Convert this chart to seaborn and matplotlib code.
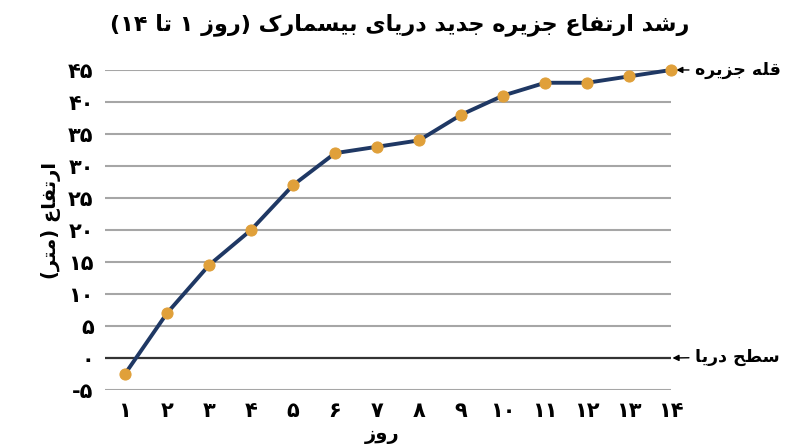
import re
import pandas as pd
import matplotlib
matplotlib.use("Agg")
import matplotlib.pyplot as plt
import seaborn as sns

# داده‌ها
days = list(range(1, 15))
heights = [-2.5, 7, 14.5, 20, 27, 32, 33, 34, 38, 41, 43, 43, 44, 45]
day_labels = ["۱", "۲", "۳", "۴", "۵", "۶", "۷", "۸", "۹", "۱۰", "۱۱", "۱۲", "۱۳", "۱۴"]
y_ticks = [-5, 0, 5, 10, 15, 20, 25, 30, 35, 40, 45]
y_labels = ["-۵", "۰", "۵", "۱۰", "۱۵", "۲۰", "۲۵", "۳۰", "۳۵", "۴۰", "۴۵"]

title = "رشد ارتفاع جزیره جدید دریای بیسمارک (روز ۱ تا ۱۴)"
x_title = "روز"
y_title = "ارتفاع (متر)"
peak_text = "قله جزیره"
sea_text = "سطح دریا"

# شکل‌دهی حروف فارسی (matplotlib خودش حروف را به هم نمی‌چسباند)
FORMS = {
    "ا": ("\uFE8D", "\uFE8E", None, None),
    "ب": ("\uFE8F", "\uFE90", "\uFE91", "\uFE92"),
    "ت": ("\uFE95", "\uFE96", "\uFE97", "\uFE98"),
    "ج": ("\uFE9D", "\uFE9E", "\uFE9F", "\uFEA0"),
    "ح": ("\uFEA1", "\uFEA2", "\uFEA3", "\uFEA4"),
    "د": ("\uFEA9", "\uFEAA", None, None),
    "ر": ("\uFEAD", "\uFEAE", None, None),
    "ز": ("\uFEAF", "\uFEB0", None, None),
    "س": ("\uFEB1", "\uFEB2", "\uFEB3", "\uFEB4"),
    "ش": ("\uFEB5", "\uFEB6", "\uFEB7", "\uFEB8"),
    "ط": ("\uFEC1", "\uFEC2", "\uFEC3", "\uFEC4"),
    "ع": ("\uFEC9", "\uFECA", "\uFECB", "\uFECC"),
    "ف": ("\uFED1", "\uFED2", "\uFED3", "\uFED4"),
    "ق": ("\uFED5", "\uFED6", "\uFED7", "\uFED8"),
    "ک": ("\uFB8E", "\uFB8F", "\uFB90", "\uFB91"),
    "ل": ("\uFEDD", "\uFEDE", "\uFEDF", "\uFEE0"),
    "م": ("\uFEE1", "\uFEE2", "\uFEE3", "\uFEE4"),
    "ه": ("\uFEE9", "\uFEEA", "\uFEEB", "\uFEEC"),
    "و": ("\uFEED", "\uFEEE", None, None),
    "ی": ("\uFBFC", "\uFBFD", "\uFBFE", "\uFBFF"),
}


def joins_left(ch):
    return ch in FORMS and FORMS[ch][2] is not None


def fa(text):
    out = []
    for i, ch in enumerate(text):
        if ch not in FORMS:
            out.append(ch)
            continue
        prev = text[i - 1] if i > 0 else ""
        nxt = text[i + 1] if i + 1 < len(text) else ""
        p = joins_left(prev)
        n = joins_left(ch) and nxt in FORMS
        iso, fin, ini, med = FORMS[ch]
        if p and n:
            out.append(med)
        elif p:
            out.append(fin)
        elif n:
            out.append(ini)
        else:
            out.append(iso)
    shaped = "".join(out)
    tokens = re.findall(r"[۰-۹0-9]+|.", shaped)
    mirror = {"(": ")", ")": "("}
    return "".join(mirror.get(t, t) for t in reversed(tokens))


df = pd.DataFrame({"day": days, "height": heights})

sns.set_style("white")
plt.rcParams["font.family"] = ["DejaVu Sans"]
plt.rcParams["text.color"] = "black"
plt.rcParams["axes.labelcolor"] = "black"
plt.rcParams["xtick.color"] = "black"
plt.rcParams["ytick.color"] = "black"

fig = plt.figure(figsize=(8, 4.47), dpi=100)
ax = fig.add_axes([0.131, 0.1275, 0.708, 0.716])

sns.lineplot(data=df, x="day", y="height", ax=ax, color="#1f3864", linewidth=2.8,
             marker="o", markersize=8, markerfacecolor="#e0a03a",
             markeredgecolor="#e0a03a", clip_on=False, zorder=5)

for t in y_ticks:
    if t == 0:
        ax.axhline(t, color="#333333", linewidth=1.6, zorder=2)
    else:
        ax.axhline(t, color="#a6a6a6", linewidth=1.5, zorder=1)

ax.set_xlim(0.52, 14)
ax.set_ylim(-5, 45)
ax.set_xticks(days)
ax.set_xticklabels(day_labels, fontsize=15, fontweight="bold")
ax.set_yticks(y_ticks)
ax.set_yticklabels(y_labels, fontsize=15, fontweight="bold")
ax.tick_params(length=0, pad=8)
for s in ax.spines.values():
    s.set_visible(False)

ax.set_xlabel(fa(x_title), fontsize=14, fontweight="bold")
ax.xaxis.set_label_coords(0.49, -0.11)
ax.set_ylabel(fa(y_title), fontsize=14, fontweight="bold")
ax.yaxis.set_label_coords(-0.077, 0.53)

fig.text(0.5, 0.945, fa(title), ha="center", va="center", fontsize=16, fontweight="bold")

ax.annotate(fa(peak_text), xy=(14.12, 45), xytext=(695, 447 - 70), textcoords="figure pixels",
            ha="left", va="center", fontsize=12.5, fontweight="bold", annotation_clip=False,
            arrowprops=dict(arrowstyle="-|>", color="black", lw=1, mutation_scale=9,
                            shrinkA=2, shrinkB=0))
ax.annotate(fa(sea_text), xy=(14.03, 0), xytext=(695, 447 - 357), textcoords="figure pixels",
            ha="left", va="center", fontsize=12.5, fontweight="bold", annotation_clip=False,
            arrowprops=dict(arrowstyle="-|>", color="black", lw=1, mutation_scale=9,
                            shrinkA=2, shrinkB=0))

fig.savefig("out.png", dpi=100)
